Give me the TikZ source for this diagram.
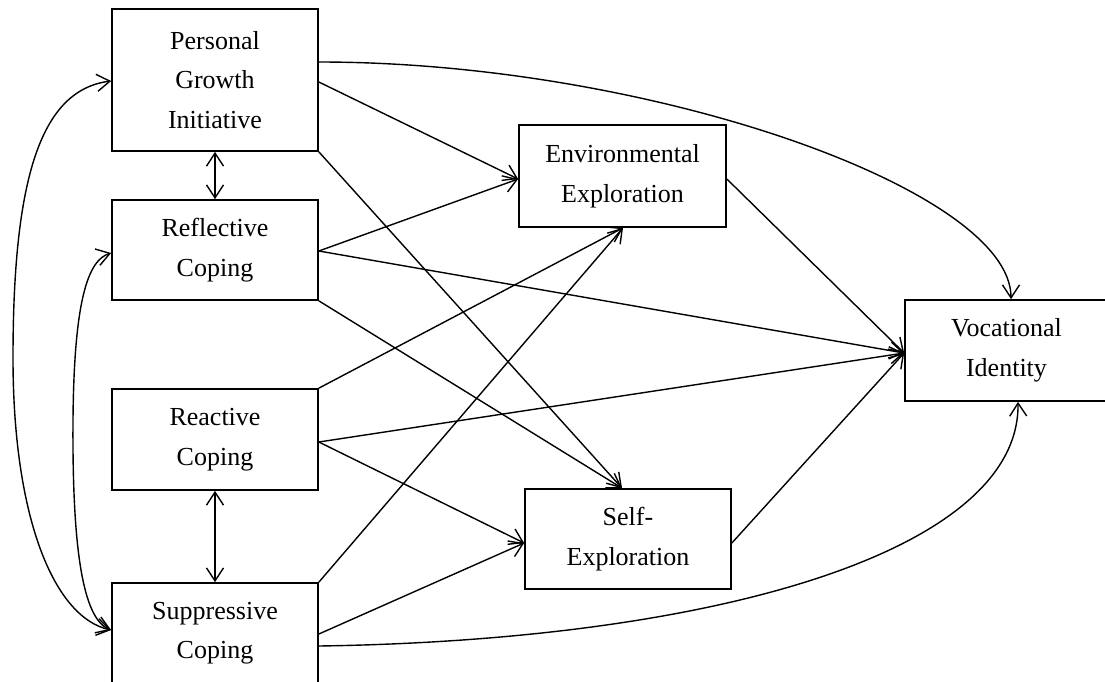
\documentclass[tikz,border=0pt]{standalone}
\usepackage{fontspec}
\setmainfont{Liberation Serif}
\usetikzlibrary{arrows.meta}
\begin{document}
\begin{tikzpicture}[x=1pt,y=-1pt,
  box/.style={draw, line width=1.7pt, align=center, inner sep=0pt,
    minimum width=206pt, minimum height=100pt,
    font=\fontsize{26}{39.5}\selectfont},
  link/.style={line width=1.4pt, -{Straight Barb[length=13pt,width=17pt]}},
  both/.style={line width=1.4pt,
    {Straight Barb[length=13pt,width=17pt]}-{Straight Barb[length=13pt,width=17pt]}},
]
\useasboundingbox (0,0) rectangle (1105,681);
\fill[white] (0,0) rectangle (1105,681);
\clip (0,0) rectangle (1105,681);

% predictors
\node[box, minimum height=142pt] (pgi) at (215,80) {Personal\\Growth\\Initiative};
\node[box] (refl) at (215,250) {Reflective\\Coping};
\node[box, minimum height=101pt] (react) at (215,439.5) {Reactive\\Coping};
\node[box] (supp) at (215,633) {Suppressive\\Coping};

% mediators
\node[box, minimum width=207pt, minimum height=102pt] (env) at (622.5,176) {Environmental\\Exploration};
\node[box] (self) at (628,539) {Self-\\Exploration};

% outcome
\node[box, minimum width=203pt, minimum height=101pt] (voc) at (1006.5,350.5) {Vocational\\Identity};

% covariances
\draw[both] (pgi.south) -- (refl.north);
\draw[both] (react.south) -- (supp.north);
\draw[both] (pgi.west |- 0,81) .. controls (40,90) and (13,180) .. (13,358)
  .. controls (13,520) and (55,618) .. (supp.west |- 0,630);
\draw[both] (refl.west |- 0,253) .. controls (88,260) and (74,300) .. (73,420)
  .. controls (72,560) and (85,620) .. (supp.west |- 0,630);

% direct paths to vocational identity
\draw[link] (pgi.east |- 0,62) .. controls (650,62) and (1011,190) .. (voc.north -| 1011,0);
\draw[link] (supp.east |- 0,646) .. controls (720,640) and (1020,550) .. (voc.south -| 1018,0);
\draw[link] (refl.east |- 0,251) -- (voc.west |- 0,353);
\draw[link] (react.east |- 0,442) -- (voc.west |- 0,353);

% paths to environmental exploration
\draw[link] (pgi.east |- 0,82) -- (env.west |- 0,179);
\draw[link] (refl.east |- 0,251) -- (env.west |- 0,179);
\draw[link] (react.north east) -- (env.south -| 623,0);
\draw[link] (supp.north east) -- (env.south -| 623,0);

% paths to self-exploration
\draw[link] (pgi.south east) -- (self.north -| 622,0);
\draw[link] (refl.south east) -- (self.north -| 622,0);
\draw[link] (react.east |- 0,442) -- (self.west |- 0,543);
\draw[link] (supp.east |- 0,634) -- (self.west |- 0,543);

% mediators to outcome
\draw[link] (env.east |- 0,179) -- (voc.west |- 0,353);
\draw[link] (self.east |- 0,543) -- (voc.west |- 0,353);
\end{tikzpicture}
\end{document}
